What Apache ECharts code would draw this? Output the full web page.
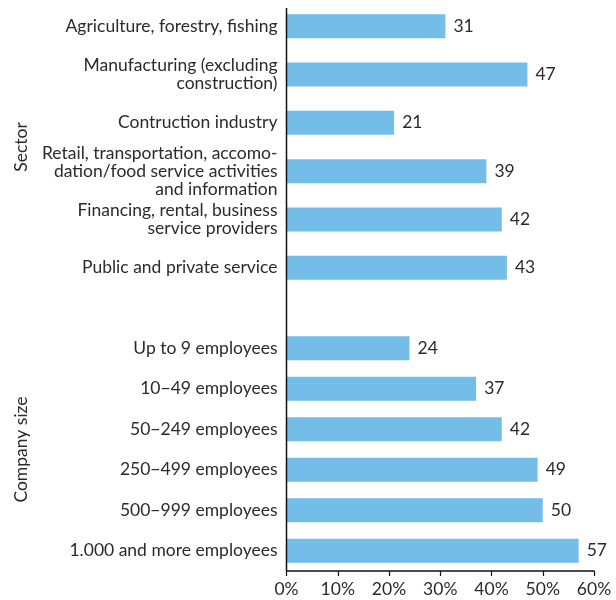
<!DOCTYPE html>
<html>
<head>
<meta charset="utf-8">
<script src="https://cdn.jsdelivr.net/npm/echarts@6/dist/echarts.min.js"></script>
<style>
  html, body { margin: 0; padding: 0; background: #fff; }
  #chart { width: 616px; height: 600px; }
</style>
</head>
<body>
<div id="chart"></div>
<script>
// Share of companies, by sector and by company size (percent)
const sectorCategories = [
  'Agriculture, forestry, fishing',
  'Manufacturing (excluding\nconstruction)',
  'Contruction industry',
  'Retail, transportation, accomo-\ndation/food service activities\nand information',
  'Financing, rental, business\nservice providers',
  'Public and private service'
];
const sectorValues = [31, 47, 21, 39, 42, 43];

const sizeCategories = [
  'Up to 9 employees',
  '10−49 employees',
  '50−249 employees',
  '250−499 employees',
  '500−999 employees',
  '1.000 and more employees'
];
const sizeValues = [24, 37, 42, 49, 50, 57];

const xTickValues = [0, 10, 20, 30, 40, 50, 60];

const FONT = 'Lato';
const TEXT = '#2b2b2b';
const BAR = '#74bde8';
const SIZE = 17.5;

const chart = echarts.init(document.getElementById('chart'), null, { renderer: 'canvas' });

const catLabel = {
  color: TEXT,
  fontFamily: FONT,
  fontSize: SIZE,
  lineHeight: 18,
  margin: 9,
  align: 'right'
};

const valueLabel = {
  show: true,
  position: 'right',
  distance: 8,
  color: TEXT,
  fontFamily: FONT,
  fontSize: SIZE
};

const axisName = {
  nameLocation: 'middle',
  nameRotate: 90,
  nameGap: 256,
  nameTextStyle: { color: TEXT, fontFamily: FONT, fontSize: SIZE }
};

chart.setOption({
  animation: false,
  grid: [
    { left: 286.5, right: 22, top: 2, height: 290 },
    { left: 286.5, right: 22, top: 328, height: 243 }
  ],
  xAxis: [
    { gridIndex: 0, type: 'value', min: xTickValues[0], max: xTickValues[xTickValues.length - 1], interval: 10, show: false },
    {
      gridIndex: 1, type: 'value',
      min: xTickValues[0], max: xTickValues[xTickValues.length - 1], interval: 10,
      axisLine: { show: true, lineStyle: { color: '#111', width: 1.5 } },
      axisTick: { show: true, length: 5, lineStyle: { color: '#111', width: 1.2 } },
      splitLine: { show: false },
      axisLabel: {
        color: TEXT, fontFamily: FONT, fontSize: SIZE, margin: 9,
        formatter: v => v + '%'
      }
    }
  ],
  yAxis: [
    Object.assign({
      gridIndex: 0, type: 'category', inverse: true, data: sectorCategories,
      name: 'Sector',
      axisLine: { show: false }, axisTick: { show: false },
      axisLabel: catLabel
    }, axisName),
    Object.assign({
      gridIndex: 1, type: 'category', inverse: true, data: sizeCategories,
      name: 'Company size',
      axisLine: { show: false }, axisTick: { show: false },
      axisLabel: catLabel
    }, axisName)
  ],
  series: [
    {
      type: 'bar', xAxisIndex: 0, yAxisIndex: 0, data: sectorValues,
      barWidth: 24, itemStyle: { color: BAR }, label: valueLabel
    },
    {
      type: 'bar', xAxisIndex: 1, yAxisIndex: 1, data: sizeValues,
      barWidth: 24, itemStyle: { color: BAR }, label: valueLabel
    }
  ],
  graphic: [
    {
      // shared vertical axis line spanning both panels
      type: 'line', silent: true, z: 10,
      shape: { x1: 286.5, y1: 8, x2: 286.5, y2: 571 },
      style: { stroke: '#111', lineWidth: 1.5 }
    }
  ]
});
</script>
</body>
</html>
